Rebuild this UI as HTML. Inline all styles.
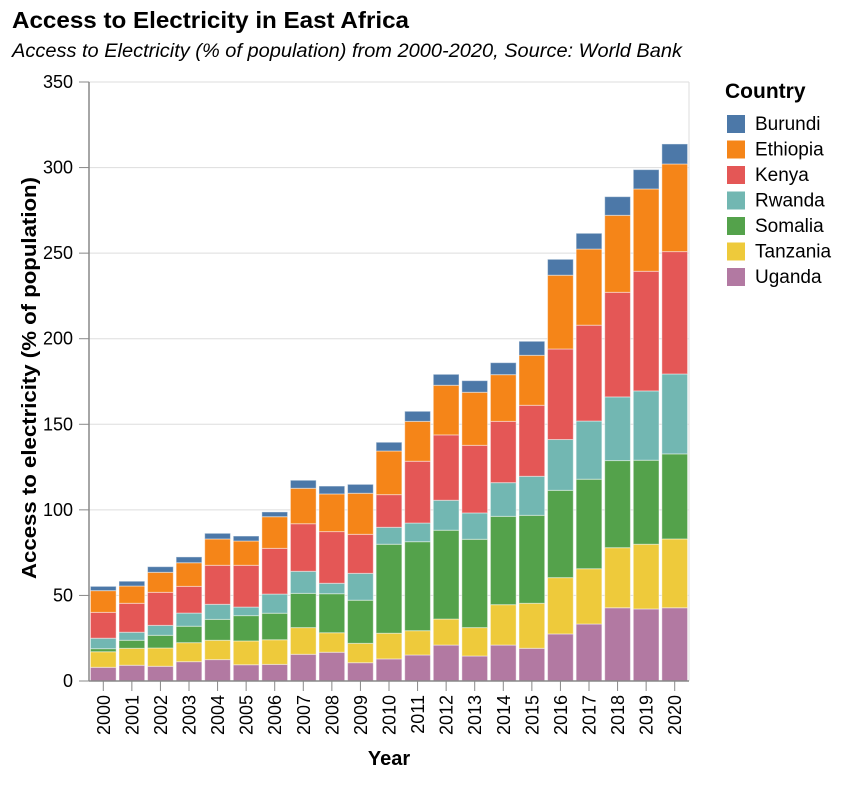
<!DOCTYPE html>
<html><head><meta charset="utf-8"><style>
body{margin:0;background:#fff;font-family:"Liberation Sans",Arial,sans-serif}
svg text{font-family:"Liberation Sans",Arial,sans-serif}
</style></head><body>
<svg id="chart" width="848" height="780" xmlns="http://www.w3.org/2000/svg">
<text x="12" y="28" font-size="23" font-weight="bold" fill="#000" textLength="397" lengthAdjust="spacingAndGlyphs">Access to Electricity in East Africa</text>
<text x="12" y="57" font-size="19" font-style="italic" fill="#000" textLength="670" lengthAdjust="spacingAndGlyphs">Access to Electricity (% of population) from 2000-2020, Source: World Bank</text>
<g id="grid"></g><g id="bars"></g><g id="axes"></g><g id="legend"></g>
</svg>
<script>
const years=[2000,2001,2002,2003,2004,2005,2006,2007,2008,2009,2010,2011,2012,2013,2014,2015,2016,2017,2018,2019,2020];
const countries=["Uganda","Tanzania","Somalia","Rwanda","Kenya","Ethiopia","Burundi"];
const uganda=[8.0,9.2,8.6,11.3,12.5,9.5,9.7,15.6,16.8,10.7,12.9,15.2,21.0,14.6,21.0,19.1,27.5,33.3,42.8,42.1,42.8];
const tanzania=[9.1,9.9,10.7,11.1,11.3,13.9,14.4,15.6,11.4,11.3,15.0,14.2,15.2,16.6,23.6,26.3,32.9,32.3,35.1,37.8,40.2];
const somalia=[1.8,4.7,7.4,9.6,12.2,14.8,15.5,20.0,22.8,25.2,52.0,52.0,51.9,51.6,51.6,51.4,51.0,52.3,50.9,49.1,49.7];
const rwanda=[6.1,4.7,5.8,7.7,8.8,5.0,11.2,12.9,6.1,15.7,9.9,10.9,17.5,15.4,19.7,22.8,29.7,34.0,37.2,40.5,46.7];
const kenya=[15.1,16.9,19.3,15.6,22.8,24.4,26.7,27.8,30.2,22.8,19.1,36.1,38.2,39.5,35.8,41.5,52.9,56.0,61.1,69.9,71.5];
const ethiopia=[12.7,10.1,11.7,13.8,15.4,14.2,18.5,20.7,22.0,24.0,25.5,23.3,29.0,31.0,27.3,29.2,43.1,44.5,45.0,48.1,51.2];
const burundi=[2.5,2.8,3.3,3.4,3.3,2.9,2.8,4.7,4.6,5.2,5.1,5.9,6.4,6.8,7.0,8.2,9.3,9.2,10.9,11.3,11.7];
const yTicks=[0,50,100,150,200,250,300,350];
const legendOrder=["Burundi","Ethiopia","Kenya","Rwanda","Somalia","Tanzania","Uganda"];

const series=[uganda,tanzania,somalia,rwanda,kenya,ethiopia,burundi];
const colors={Burundi:"#4c78a8",Ethiopia:"#f58518",Kenya:"#e45756",Rwanda:"#72b7b2",Somalia:"#54a24b",Tanzania:"#eeca3b",Uganda:"#b279a2"};
const X0=89,X1=689,Y0=681,Y1=82,YMAX=350;
const band=(X1-X0)/years.length;
const xPos=i=>X0+i*band+band*0.05;
const bw=band*0.9;
const y=v=>Y0-(v/YMAX)*(Y0-Y1);
const NS="http://www.w3.org/2000/svg";
function mk(tag,attrs,parent){const e=document.createElementNS(NS,tag);for(const k in attrs)e.setAttribute(k,attrs[k]);parent.appendChild(e);return e;}
const grid=document.getElementById('grid'),bars=document.getElementById('bars'),axes=document.getElementById('axes'),legend=document.getElementById('legend');
yTicks.forEach(t=>{
  const l=mk('line',{x1:X0,x2:X1,y1:y(t),y2:y(t),stroke:'#ddd','stroke-width':1},grid);
  
  
  const tk=mk('line',{x1:X0-10,x2:X0,y1:y(t),y2:y(t),stroke:'#888'},axes);
  
  
  const tx=mk('text',{x:X0-16,y:y(t)+6,'text-anchor':'end','font-size':18,fill:'#000'},axes);
  tx.textContent=t;
  
  
});
const border=mk('line',{x1:X1,x2:X1,y1:Y1,y2:Y0,stroke:'#ddd'},grid);


years.forEach((yr,i)=>{
  let acc=0;
  series.forEach((s,j)=>{
    const v=s[i];
    const r=mk('rect',{x:xPos(i),width:bw,y:y(acc+v),height:y(acc)-y(acc+v),fill:colors[countries[j]],stroke:'rgba(255,255,255,0.45)','stroke-width':1},bars);
    
    
    acc+=v;
  });
  const cx=xPos(i)+bw/2;
  const tk=mk('line',{x1:cx,x2:cx,y1:Y0,y2:Y0+10,stroke:'#888'},axes);
  
  
  const tx=mk('text',{x:0,y:0,'text-anchor':'end','font-size':18,fill:'#000',transform:`translate(${cx+6.5},${Y0+14}) rotate(-90)`},axes);
  tx.textContent=yr;
  
  
});
const ax=mk('line',{x1:X0,x2:X0,y1:Y1,y2:Y0,stroke:'#888','stroke-width':1.5},axes);


const bx=mk('line',{x1:X0,x2:X1,y1:Y0,y2:Y0,stroke:'#888','stroke-width':1.5},axes);


const yt=mk('text',{x:0,y:0,'text-anchor':'middle','font-size':20,'font-weight':'bold',fill:'#000',textLength:402,lengthAdjust:'spacingAndGlyphs',transform:`translate(36,378) rotate(-90)`},axes);
yt.textContent='Access to electricity (% of population)';


const xt=mk('text',{x:(X0+X1)/2,y:765,'text-anchor':'middle','font-size':20,'font-weight':'bold',fill:'#000'},axes);
xt.textContent='Year';


const lt=mk('text',{x:725,y:98,'font-size':21,'font-weight':'bold',fill:'#000'},legend);
lt.textContent='Country';


legendOrder.forEach((c,i)=>{
  const yy=115+i*25.5;
  const sq=mk('rect',{x:727,y:yy,width:18,height:18,fill:colors[c]},legend);
  
  
  const t=mk('text',{x:755,y:yy+15,'font-size':19,fill:'#000'},legend);
  t.textContent=c;
  
  
});
</script>
</body></html>
